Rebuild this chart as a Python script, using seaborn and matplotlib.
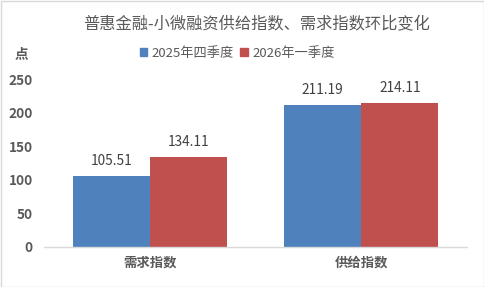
import matplotlib
matplotlib.use("Agg")
import matplotlib.pyplot as plt
import seaborn as sns
import pandas as pd
from matplotlib.patches import Rectangle

categories = ["需求指数", "供给指数"]
series_names = ["2025年四季度", "2026年一季度"]
q4_2025 = [105.51, 211.19]
q1_2026 = [134.11, 214.11]
yticks = [0, 50, 100, 150, 200, 250]
title = "普惠金融-小微融资供给指数、需求指数环比变化"
unit = "点"

sns.set_theme(style="white")
plt.rcParams['font.family'] = ['Noto Sans CJK SC', 'DejaVu Sans']

df = pd.DataFrame({
    "cat": categories * 2,
    "series": [series_names[0]] * 2 + [series_names[1]] * 2,
    "value": q4_2025 + q1_2026,
})

fig = plt.figure(figsize=(4.85, 2.87), dpi=100)
ax = fig.add_axes([44/485, 1-247/287, 423/485, 168/287])
palette = {series_names[0]: "#4F81BD", series_names[1]: "#C0504D"}
sns.barplot(data=df, x="cat", y="value", hue="series", order=categories,
            hue_order=series_names, palette=palette, width=0.728,
            saturation=1, ax=ax, legend=False, linewidth=0)

ax.set_ylim(0, 250)
ax.set_yticks(yticks)
ax.set_yticklabels([str(t) for t in yticks], fontsize=9.8, fontweight="bold", color="#595959")
ax.set_xlabel("")
ax.set_ylabel("")
ax.tick_params(axis="y", length=0, pad=8)
ax.tick_params(axis="x", length=0, pad=6, labelsize=9.6, labelcolor="#595959")
for lbl in ax.get_xticklabels():
    lbl.set_fontweight("bold")
for s in ["top", "right", "left"]:
    ax.spines[s].set_visible(False)
ax.spines["bottom"].set_color("#D9D9D9")
ax.spines["bottom"].set_linewidth(1)

for cont in ax.containers:
    ax.bar_label(cont, fmt="%.2f", padding=6, fontsize=9.8, color="#404040")

fig.text(257/485, 1-25/287, title, ha="center", va="center", fontsize=11.7, color="#595959")
fig.text(21/485, 1-54/287, unit, ha="center", va="center", fontsize=9.8, fontweight="bold", color="#595959")

handles = [Rectangle((0, 0), 1, 1, color=palette[n]) for n in series_names]
fig.legend(handles, series_names, loc="center", bbox_to_anchor=(237/485, 1-53/287),
           ncol=2, frameon=False, fontsize=9.5, handlelength=0.6, handleheight=0.6,
           handletextpad=0.3, columnspacing=0.5, labelcolor="#595959")

fig.patches.append(Rectangle((0.5/485, 0.5/287), 1-1/485, 1-1/287, transform=fig.transFigure,
                             fill=False, edgecolor="#D9D9D9", linewidth=1))

fig.savefig("out.png", dpi=100)
